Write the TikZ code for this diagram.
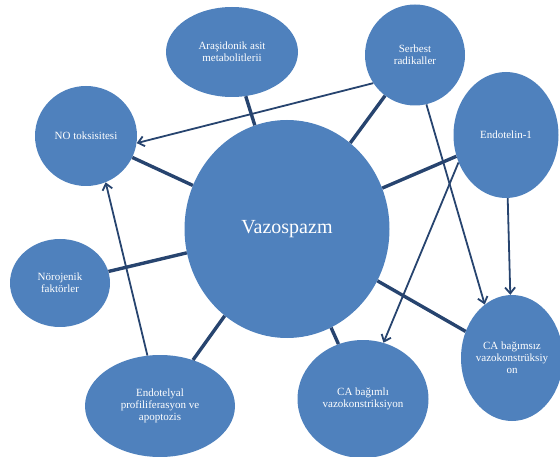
\documentclass[tikz,border=0pt]{standalone}
\usepackage{fontspec}
\setmainfont{Liberation Serif}
\usepackage{tikz}
\usetikzlibrary{arrows.meta,shapes.geometric}
\definecolor{bubble}{HTML}{4F81BD}
\definecolor{link}{HTML}{27446F}

\begin{document}
\begin{tikzpicture}[x=1pt,y=-1pt,>={Straight Barb[length=6pt,width=10pt]},
    cause/.style={ellipse,fill=bubble,text=white,inner sep=0pt,align=center,
      font=\fontsize{11}{12}\selectfont},
    tie/.style={draw=link,line width=3.4pt},
    leads/.style={draw=link,line width=1.8pt,->}]
  \useasboundingbox (0,0) rectangle (560,457);
  \node[cause,minimum width=205pt,minimum height=218pt,font=\fontsize{20}{22}\selectfont] (vazo) at (287,229) {Vazospazm};
  \node[cause,minimum width=132pt,minimum height=90pt] (aras) at (232,52) {Araşidonik asit\\metabolitlerii};
  \node[cause,minimum width=100pt,minimum height=101pt] (serbest) at (415,55) {Serbest\\radikaller};
  \node[cause,minimum width=105pt,minimum height=126pt] (endo) at (506,135) {Endotelin-1};
  \node[cause,minimum width=102pt,minimum height=100pt] (no) at (86,136) {NO toksisitesi};
  \node[cause,minimum width=100pt,minimum height=88pt] (noro) at (60,283) {Nörojenik\\faktörler};
  \node[cause,minimum width=150pt,minimum height=102pt] (endotelyal) at (160,406) {Endotelyal\\profiliferasyon ve\\apoptozis};
  \node[cause,minimum width=131pt,minimum height=118pt] (bagimli) at (363,399) {CA bağımlı\\vazokonstriksiyon};
  \node[cause,minimum width=100pt,minimum height=126pt] (bagimsiz) at (512,358) {CA bağımsız\\vazokonstrüksiy\\on};

  % ties to the centre
  \path[tie] (vazo) -- (aras);
  \path[tie] (vazo) -- (serbest);
  \path[tie] (vazo) -- (endo);
  \path[tie] (vazo) -- (no);
  \path[tie] (vazo) -- (noro);
  \path[tie] (vazo) -- (endotelyal);
  \path[tie] (vazo) -- (bagimli);
  \path[tie] (vazo) -- (bagimsiz);

  % arrows
  \path[leads] (serbest.214) -- (no.-8);
  \path[leads] (serbest.-77) -- (bagimsiz.117);
  \path[leads] (endo.210) -- (bagimli.70);
  \path[leads] (endo) -- (bagimsiz);
  \path[leads] (endotelyal.104) -- (no.-67);
\end{tikzpicture}
\end{document}
